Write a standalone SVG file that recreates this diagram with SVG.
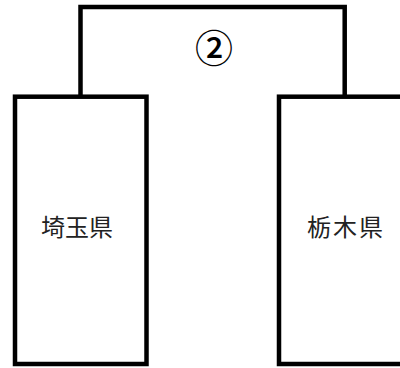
<svg xmlns="http://www.w3.org/2000/svg" width="400" height="368" viewBox="0 0 400 368">
<style>
.b{fill:#fff;stroke:#000;stroke-width:4.5}
.t{font-family:"Noto Sans CJK JP","Noto Sans",sans-serif;font-size:24px;fill:#222;text-anchor:middle}
.n{font-family:"Noto Sans CJK JP","Noto Sans",sans-serif;font-size:38px;font-weight:500;fill:#000;text-anchor:middle}
</style>
<rect width="400" height="368" fill="#fff"/>
<g id="top">
<path class="b" d="M80.5 96.7 V7 H344.7 V96.7" fill="none"/>
<text class="n" x="214" y="62">②</text>
</g>
<g id="saitama">
<rect class="b" x="15" y="96.7" width="131.5" height="267.3"/>
<text class="t" x="77" y="236">埼玉県</text>
</g>
<g id="tochigi">
<rect class="b" x="279" y="96.7" width="140" height="267.3"/>
<text class="t" x="345" y="236" letter-spacing="2" dx="1">栃木県</text>
</g>
</svg>
